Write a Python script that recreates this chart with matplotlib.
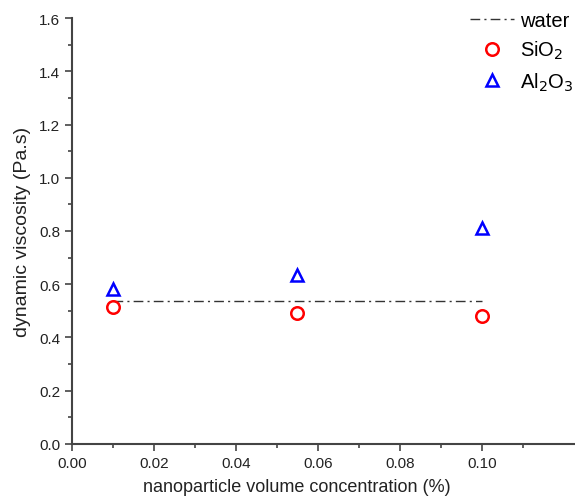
import numpy as np
import matplotlib.pyplot as plt
from matplotlib.ticker import FixedLocator

plt.rcParams['font.family'] = ['Liberation Sans', 'DejaVu Sans']

# concentrations (%) and viscosities (Pa.s)
conc = [0.01, 0.055, 0.10]
sio2 = [0.515, 0.49, 0.48]
al2o3 = [0.58, 0.635, 0.81]
water_conc = [0.01, 0.10]
water = [0.535, 0.535]

xticks = [0.00, 0.02, 0.04, 0.06, 0.08, 0.10]
xminor = [0.01, 0.03, 0.05, 0.07, 0.09, 0.11]
yticks = np.arange(0, 1.61, 0.2)
yminor = np.arange(0.1, 1.6, 0.2)

fig = plt.figure(figsize=(5.75, 5.02), dpi=100)
ax = fig.add_axes([0.125, 0.114, 0.875, 0.848])

ax.plot(water_conc, water, color='#333333', lw=1.0, ls=(0, (7, 3, 1.5, 3)), label='water')
ax.plot(conc, sio2, 'o', ms=9, mfc='none', mec='red', mew=1.8, ls='none', label='SiO$_2$')
ax.plot(conc, al2o3, '^', ms=9, mfc='none', mec='blue', mew=1.8, ls='none', label='Al$_2$O$_3$')

ax.set_xlim(0, 0.1227)
ax.set_ylim(0, 1.6)
ax.xaxis.set_major_locator(FixedLocator(xticks))
ax.xaxis.set_minor_locator(FixedLocator(xminor))
ax.yaxis.set_major_locator(FixedLocator(yticks))
ax.yaxis.set_minor_locator(FixedLocator(yminor))
ax.xaxis.set_major_formatter(plt.FormatStrFormatter('%.2f'))
ax.yaxis.set_major_formatter(plt.FormatStrFormatter('%.1f'))

for s in ['top', 'right']:
    ax.spines[s].set_visible(False)
for s in ['left', 'bottom']:
    ax.spines[s].set_color('#444444')
    ax.spines[s].set_linewidth(1.5)
ax.tick_params(which='both', direction='out', color='#444444', width=1.2, labelsize=11, labelcolor='#222222')
ax.tick_params(which='major', length=5)
ax.tick_params(which='minor', length=3)

ax.set_xlabel('nanoparticle volume concentration (%)', fontsize=13, color='#222222', va='center')
ax.xaxis.set_label_coords(0.447, -0.101)
ax.set_ylabel('dynamic viscosity (Pa.s)', fontsize=14, color='#222222', labelpad=6)

ax.legend(loc='upper right', frameon=False, fontsize=14.5, handlelength=2.2,
          handletextpad=0.3, labelspacing=0.45, borderpad=0, borderaxespad=0,
          bbox_to_anchor=(0.997, 0.976), bbox_transform=fig.transFigure)

fig.savefig('out.png', dpi=100)
